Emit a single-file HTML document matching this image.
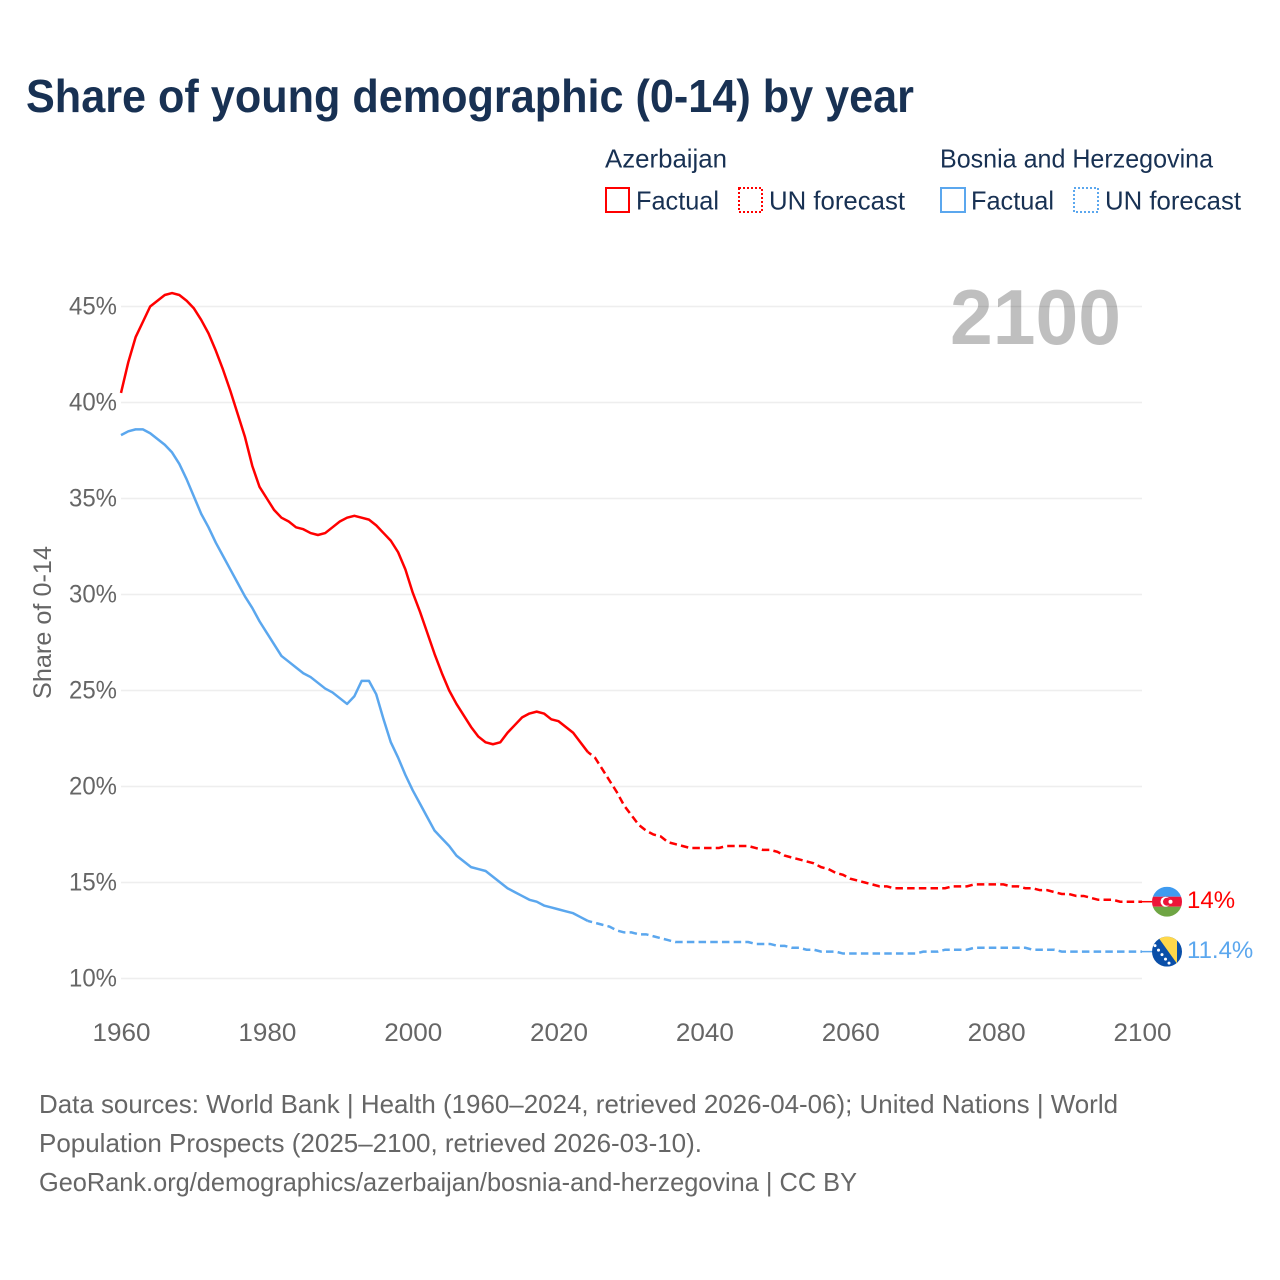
<!DOCTYPE html>
<html lang="en">
<head>
<meta charset="utf-8">
<title>Share of young demographic (0-14) by year</title>
<style>
html,body{margin:0;padding:0;background:#fff;}
svg{display:block;font-family:"Liberation Sans",sans-serif;}
</style>
</head>
<body>
<svg id="chart" width="1280" height="1280" viewBox="0 0 1280 1280" xmlns="http://www.w3.org/2000/svg">
  <defs>
    <clipPath id="flag-clip"><circle cx="0" cy="0" r="15"/></clipPath>
  </defs>
  <rect width="1280" height="1280" fill="#fff"/>
  <text x="26" y="112" font-size="46" font-weight="700" fill="#183153" textLength="888" lengthAdjust="spacingAndGlyphs">Share of young demographic (0-14) by year</text>

  <g font-size="26" fill="#183153">
    <text x="605" y="167.5" textLength="122" lengthAdjust="spacingAndGlyphs">Azerbaijan</text>
    <text x="940" y="167.5" textLength="273" lengthAdjust="spacingAndGlyphs">Bosnia and Herzegovina</text>
    <rect x="606" y="188" width="23" height="24" fill="none" stroke="#ff0000" stroke-width="2"/>
    <text x="636" y="209.5" textLength="83" lengthAdjust="spacingAndGlyphs">Factual</text>
    <rect x="739" y="188" width="23" height="24" fill="none" stroke="#ff0000" stroke-width="2" stroke-dasharray="2 2"/>
    <text x="769" y="209.5" textLength="136" lengthAdjust="spacingAndGlyphs">UN forecast</text>
    <rect x="941" y="188" width="24" height="24" fill="none" stroke="#5ba7ee" stroke-width="2"/>
    <text x="971" y="209.5" textLength="83" lengthAdjust="spacingAndGlyphs">Factual</text>
    <rect x="1074" y="188" width="24" height="24" fill="none" stroke="#5ba7ee" stroke-width="2" stroke-dasharray="2 2"/>
    <text x="1105" y="209.5" textLength="136" lengthAdjust="spacingAndGlyphs">UN forecast</text>
  </g>

  <g id="grid"></g>
  <g id="y-ticks"></g>
  <g id="x-ticks"></g>

  <text transform="translate(51,699) rotate(-90)" font-size="25" fill="#666" textLength="153" lengthAdjust="spacingAndGlyphs">Share of 0-14</text>
  <text x="950" y="344" font-size="78" font-weight="700" fill="#000" fill-opacity="0.25" textLength="171" lengthAdjust="spacingAndGlyphs">2100</text>

  <g id="series"></g>

  <g id="end-azerbaijan">
    <g clip-path="url(#flag-clip)">
      <rect x="-15" y="-15" width="30" height="10" fill="#3f9bf0"/>
      <rect x="-15" y="-5" width="30" height="10" fill="#ed1438"/>
      <rect x="-15" y="5" width="30" height="10" fill="#6fa544"/>
      <circle cx="-1.5" cy="0" r="5" fill="#fff"/>
      <circle cx="0" cy="0" r="4" fill="#ed1438"/>
      <circle cx="3.5" cy="0" r="2" fill="#fff"/>
    </g>
  </g>
  <g id="end-bosnia">
    <g clip-path="url(#flag-clip)">
      <rect x="-15" y="-15" width="30" height="30" fill="#0a4fa8"/>
      <polygon points="-10,-16 10,-16 10,12" fill="#ffd84a"/>
      <g fill="#fff">
        <circle cx="-12" cy="-6" r="1.5"/>
        <circle cx="-8.5" cy="-1.5" r="1.5"/>
        <circle cx="-5" cy="3" r="1.5"/>
        <circle cx="-1.5" cy="7.5" r="1.5"/>
        <circle cx="2" cy="11.5" r="1.5"/>
      </g>
    </g>
  </g>

  <g font-size="26" fill="#666">
    <text x="39" y="1113" textLength="1079" lengthAdjust="spacingAndGlyphs">Data sources: World Bank | Health (1960–2024, retrieved 2026-04-06); United Nations | World</text>
    <text x="39" y="1152" textLength="663" lengthAdjust="spacingAndGlyphs">Population Prospects (2025–2100, retrieved 2026-03-10).</text>
    <text x="39" y="1191" textLength="818" lengthAdjust="spacingAndGlyphs">GeoRank.org/demographics/azerbaijan/bosnia-and-herzegovina | CC BY</text>
  </g>
</svg>
<script>
const startYear = 1960;
const lastFactualYear = 2024;
const yTicks = [10, 15, 20, 25, 30, 35, 40, 45];
const xTicks = [1960, 1980, 2000, 2020, 2040, 2060, 2080, 2100];
const azerbaijan = [
  40.5,42.1,43.4,44.2,45.0,45.3,45.6,45.7,45.6,45.3,
  44.9,44.3,43.6,42.7,41.7,40.6,39.4,38.2,36.7,35.6,
  35.0,34.4,34.0,33.8,33.5,33.4,33.2,33.1,33.2,33.5,
  33.8,34.0,34.1,34.0,33.9,33.6,33.2,32.8,32.2,31.3,
  30.1,29.1,28.0,26.9,25.9,25.0,24.3,23.7,23.1,22.6,
  22.3,22.2,22.3,22.8,23.2,23.6,23.8,23.9,23.8,23.5,
  23.4,23.1,22.8,22.3,21.8,21.5,20.9,20.3,19.7,19.0,
  18.5,18.0,17.7,17.5,17.4,17.1,17.0,16.9,16.8,16.8,
  16.8,16.8,16.8,16.9,16.9,16.9,16.9,16.8,16.7,16.7,
  16.6,16.4,16.3,16.2,16.1,16.0,15.8,15.7,15.5,15.4,
  15.2,15.1,15.0,14.9,14.8,14.8,14.7,14.7,14.7,14.7,
  14.7,14.7,14.7,14.7,14.8,14.8,14.8,14.9,14.9,14.9,
  14.9,14.9,14.8,14.8,14.7,14.7,14.6,14.6,14.5,14.4,
  14.4,14.3,14.3,14.2,14.1,14.1,14.1,14.0,14.0,14.0,
  14.0
];
const bosnia = [
  38.3,38.5,38.6,38.6,38.4,38.1,37.8,37.4,36.8,36.0,
  35.1,34.2,33.5,32.7,32.0,31.3,30.6,29.9,29.3,28.6,
  28.0,27.4,26.8,26.5,26.2,25.9,25.7,25.4,25.1,24.9,
  24.6,24.3,24.7,25.5,25.5,24.8,23.5,22.3,21.5,20.6,
  19.8,19.1,18.4,17.7,17.3,16.9,16.4,16.1,15.8,15.7,
  15.6,15.3,15.0,14.7,14.5,14.3,14.1,14.0,13.8,13.7,
  13.6,13.5,13.4,13.2,13.0,12.9,12.8,12.7,12.5,12.4,
  12.4,12.3,12.3,12.2,12.1,12.0,11.9,11.9,11.9,11.9,
  11.9,11.9,11.9,11.9,11.9,11.9,11.9,11.8,11.8,11.8,
  11.7,11.7,11.6,11.6,11.5,11.5,11.4,11.4,11.4,11.3,
  11.3,11.3,11.3,11.3,11.3,11.3,11.3,11.3,11.3,11.3,
  11.4,11.4,11.4,11.5,11.5,11.5,11.5,11.6,11.6,11.6,
  11.6,11.6,11.6,11.6,11.6,11.5,11.5,11.5,11.5,11.4,
  11.4,11.4,11.4,11.4,11.4,11.4,11.4,11.4,11.4,11.4,
  11.4
];

const NS = 'http://www.w3.org/2000/svg';
const xScale = function (year) { return 121 + (year - 1960) * (1142 - 121) / 140; };
const yScale = function (v) { return 978.5 - (v - 10) * (978.5 - 306.5) / 35; };

function make(tag, parent) {
  const el = document.createElementNS(NS, tag);
  parent.appendChild(el);
  return el;
}
function pathFor(values, from, to) {
  let d = '';
  for (let i = from; i <= to && i < values.length; i++) {
    d += (d ? 'L' : 'M') + xScale(startYear + i).toFixed(2) + ' ' + yScale(values[i]).toFixed(2);
  }
  return d;
}

const gridGroup = document.getElementById('grid');
const yGroup = document.getElementById('y-ticks');
yTicks.forEach(function (t) {
  const line = make('line', gridGroup);
  
  
  line.setAttribute('x1', xScale(1960));
  line.setAttribute('x2', xScale(2100));
  line.setAttribute('y1', yScale(t));
  line.setAttribute('y2', yScale(t));
  line.setAttribute('stroke', '#eeeeee');
  line.setAttribute('stroke-width', '1.5');
  const label = make('text', yGroup);
  
  
  label.setAttribute('x', 69);
  label.setAttribute('y', yScale(t) + 8);
  label.setAttribute('font-size', '25');
  label.setAttribute('fill', '#666');
  label.setAttribute('textLength', '48');
  label.setAttribute('lengthAdjust', 'spacingAndGlyphs');
  label.textContent = t + '%';
});

const xGroup = document.getElementById('x-ticks');
xTicks.forEach(function (t) {
  const label = make('text', xGroup);
  
  
  label.setAttribute('x', xScale(t) - 28.5);
  label.setAttribute('y', 1041);
  label.setAttribute('font-size', '25');
  label.setAttribute('fill', '#666');
  label.setAttribute('textLength', '58');
  label.setAttribute('lengthAdjust', 'spacingAndGlyphs');
  label.textContent = t;
});

const seriesGroup = document.getElementById('series');
function drawSeries(values, color, prefix, markerId) {
  const splitIndex = lastFactualYear - startYear;
  const factual = make('path', seriesGroup);
  
  
  factual.setAttribute('d', pathFor(values, 0, splitIndex));
  factual.setAttribute('fill', 'none');
  factual.setAttribute('stroke', color);
  factual.setAttribute('stroke-width', '2.5');
  factual.setAttribute('stroke-linejoin', 'round');
  const forecast = make('path', seriesGroup);
  
  
  forecast.setAttribute('d', pathFor(values, splitIndex, values.length - 1));
  forecast.setAttribute('fill', 'none');
  forecast.setAttribute('stroke', color);
  forecast.setAttribute('stroke-width', '2.5');
  forecast.setAttribute('stroke-dasharray', '7.5 4.2');
  forecast.setAttribute('stroke-dashoffset', '3');
  const last = values[values.length - 1];
  const endX = xScale(startYear + values.length - 1);
  const endY = yScale(last);
  const connector = make('line', seriesGroup);
  
  
  connector.setAttribute('x1', endX);
  connector.setAttribute('x2', endX + 10);
  connector.setAttribute('y1', endY);
  connector.setAttribute('y2', endY);
  connector.setAttribute('stroke', color);
  connector.setAttribute('stroke-width', '1.5');
  const marker = document.getElementById(markerId);
  marker.setAttribute('transform', 'translate(' + (endX + 25) + ',' + endY + ')');
  const label = make('text', marker);
  
  
  label.setAttribute('x', 20);
  label.setAttribute('y', 6.5);
  label.setAttribute('font-size', '24');
  label.setAttribute('fill', color);
  label.textContent = last + '%';
}
drawSeries(bosnia, '#5ba7ee', 'bosnia', 'end-bosnia');
drawSeries(azerbaijan, '#ff0000', 'azerbaijan', 'end-azerbaijan');
</script>
</body>
</html>
